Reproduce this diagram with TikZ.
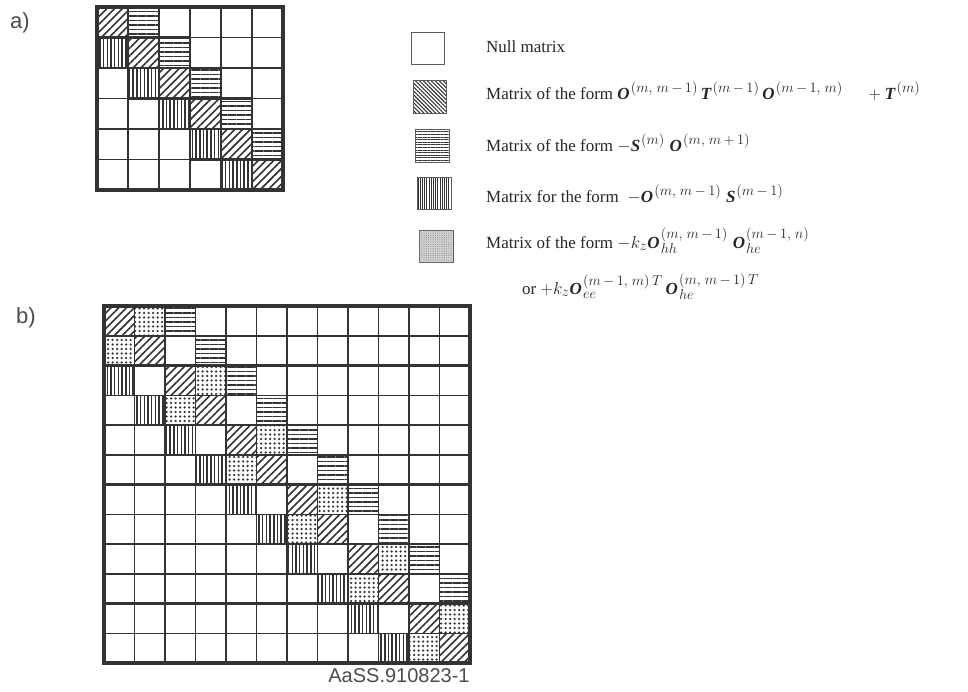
\documentclass[tikz,border=0pt]{standalone}
\usepackage{fontspec}
\setmainfont{Liberation Serif}
\newfontfamily\labfont{Liberation Sans}
\usepackage{bm}
\usetikzlibrary{patterns.meta}
\DeclareMathSizes{17}{17}{14.5}{11}
\definecolor{ink}{HTML}{333333}
\newcommand{\BO}{\textbf{\textit{O}}\kern1.2pt{}}
\newcommand{\BT}{\textbf{\textit{T}}\kern0.8pt{}}
\newcommand{\BS}{\textbf{\textit{S}}\kern0.8pt{}}
\newcommand{\mmo}{m\,{-}\,1}
\newcommand{\mpo}{m\,{+}\,1}
\newcommand{\upsup}[1]{\raisebox{2.5pt}{$\scriptstyle #1$}}
\tikzset{
  gridline/.style={draw=ink, line width=1.5pt},
  cellline/.style={draw=ink, line width=2.2pt},
  blockline/.style={draw=ink, line width=2.8pt},
  frameline/.style={draw=ink, line width=4pt},
  diagC/.style={pattern={Lines[angle=45,distance=5.5pt,line width=1.6pt]}, pattern color=ink},
  horzC/.style={pattern={Lines[angle=0,distance=4.5pt,line width=1.5pt]}, pattern color=ink},
  vertC/.style={pattern={Lines[angle=90,distance=3.7pt,line width=1.5pt]}, pattern color=ink},
  dotsC/.style={pattern={Dots[distance=4.5pt,radius=1.25pt]}, pattern color=ink},
  legbox/.style={draw=ink!80, line width=0.9pt},
  legdiag/.style={legbox, pattern={Lines[angle=-45,distance=2.8pt,line width=1.1pt]}, pattern color=ink},
  leghorz/.style={legbox, pattern={Lines[angle=0,distance=2.6pt,line width=1pt]}, pattern color=ink},
  legvert/.style={legbox, pattern={Lines[angle=90,distance=2.2pt,line width=1pt]}, pattern color=ink},
  legdots/.style={legbox, fill=black!15},
  legtext/.style={anchor=base west, inner sep=0pt, text=black!85, font=\fontsize{17}{20}\selectfont},
  figlabel/.style={inner sep=0pt, text=black!70, font=\labfont\fontsize{22}{24}\selectfont},
}
\begin{document}
\begin{tikzpicture}[x=1pt,y=-1pt]
\useasboundingbox (0,0) rectangle (968,691);

% ---------------- matrix a ----------------
\foreach \i in {0,...,5}
  \path[diagC] ({97+\i*31},{7+\i*30.5}) rectangle ++(31,30.5);
\foreach \i in {0,...,4} {
  \path[horzC] ({97+(\i+1)*31},{7+\i*30.5}) rectangle ++(31,30.5);
  \path[vertC] ({97+\i*31},{7+(\i+1)*30.5}) rectangle ++(31,30.5);
}
\foreach \k in {1,...,5} {
  \draw[gridline] ({97+\k*31},7) -- ({97+\k*31},190);
  \draw[gridline] (97,{7+\k*30.5}) -- (283,{7+\k*30.5});
}
\foreach \i in {0,...,5}
  \draw[cellline] ({97+\i*31},{7+\i*30.5}) rectangle ++(31,30.5);
\foreach \i in {0,...,4} {
  \draw[cellline] ({97+(\i+1)*31},{7+\i*30.5}) rectangle ++(31,30.5);
  \draw[cellline] ({97+\i*31},{7+(\i+1)*30.5}) rectangle ++(31,30.5);
}
\draw[frameline] (97,7) rectangle (283,190);

% ---------------- matrix b ----------------
\foreach \i in {0,...,11}
  \path[diagC] ({104+\i*30.5},{306+\i*29.75}) rectangle ++(30.5,29.75);
\foreach \I in {0,...,5} {
  \path[dotsC] ({104+(2*\I+1)*30.5},{306+(2*\I)*29.75}) rectangle ++(30.5,29.75);
  \path[dotsC] ({104+(2*\I)*30.5},{306+(2*\I+1)*29.75}) rectangle ++(30.5,29.75);
}
\foreach \I in {0,...,4} {
  \path[horzC] ({104+(2*\I+2)*30.5},{306+(2*\I)*29.75}) rectangle ++(30.5,29.75);
  \path[horzC] ({104+(2*\I+3)*30.5},{306+(2*\I+1)*29.75}) rectangle ++(30.5,29.75);
  \path[vertC] ({104+(2*\I)*30.5},{306+(2*\I+2)*29.75}) rectangle ++(30.5,29.75);
  \path[vertC] ({104+(2*\I+1)*30.5},{306+(2*\I+3)*29.75}) rectangle ++(30.5,29.75);
}
\foreach \k in {1,3,...,11} {
  \draw[gridline] ({104+\k*30.5},306) -- ({104+\k*30.5},663);
  \draw[gridline] (104,{306+\k*29.75}) -- (470,{306+\k*29.75});
}
\foreach \k in {2,4,...,10} {
  \draw[blockline] ({104+\k*30.5},306) -- ({104+\k*30.5},663);
  \draw[blockline] (104,{306+\k*29.75}) -- (470,{306+\k*29.75});
}
\draw[frameline] (104,306) rectangle (470,663);

% ---------------- legend ----------------
\draw[legbox] (411,32) rectangle (444,64);
\draw[legdiag] (413,80) rectangle (446,113);
\draw[leghorz] (415,129) rectangle (449,162);
\draw[legvert] (417,177) rectangle (451,209);
\draw[legdots] (419,230) rectangle (453,262);
\path[pattern={Dots[distance=1.8pt,radius=0.5pt]}, pattern color=black!50] (419,230) rectangle (453,262);

\node[legtext] (t1) at (486,52) {Null matrix};
\node[legtext] (t2) at (486,99) {Matrix of the form $\BO^{(m,\;\mmo)}\,\BT^{(\mmo)}\,\BO^{(\mmo,\;m)}\quad\;+\BT^{(m)}$};
\node[legtext] (t3) at (486,151) {Matrix of the form $-\BS^{(m)}\;\BO^{(m,\;\mpo)}$};
\node[legtext] (t4) at (486,202) {Matrix for the form \ $-\BO^{(m,\;\mmo)}\;\BS^{(\mmo)}$};
\node[legtext] (t5) at (486,248) {Matrix of the form $-k_z\BO_{hh}^{\upsup{(m,\;\mmo)}}\;\BO_{he}^{\upsup{(\mmo,\;n)}}$};
\node[legtext] (t6) at (522,294) {or $+k_z\BO_{ee}^{\upsup{(\mmo,\;m)\,T}}\,\BO_{he}^{\upsup{(m,\;\mmo)\,T}}$};

% ---------------- labels ----------------
\node[figlabel] (la) at (20,23) {a)};
\node[figlabel] (lb) at (26,318) {b)};
\node[inner sep=0pt, text=black!70, font=\labfont\fontsize{20}{22}\selectfont] (code) at (399,676) {AaSS.910823-1};
\end{tikzpicture}
\end{document}
